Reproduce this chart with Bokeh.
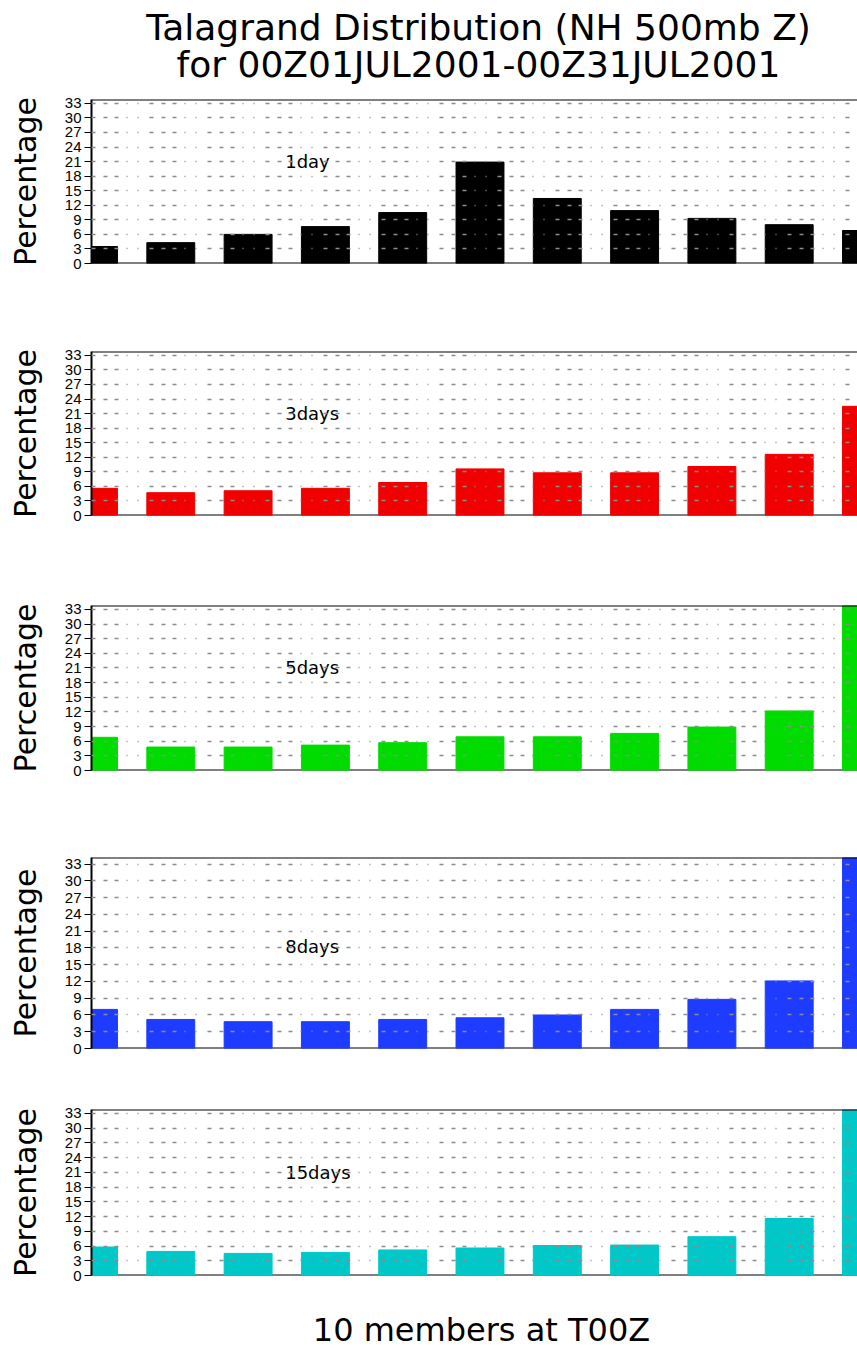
from bokeh.plotting import figure
from bokeh.layouts import column
from bokeh.models import Range1d, FixedTicker, Span, Label, ColumnDataSource
from bokeh.core.properties import value
from bokeh.embed import file_html
from bokeh.resources import INLINE

# ---- data -----------------------------------------------------------------
title_line1 = "Talagrand Distribution (NH 500mb Z)"
title_line2 = "for 00Z01JUL2001-00Z31JUL2001"
footer_text = "10 members at T00Z"
y_label = "Percentage"

# 11 rank bins for a 10-member ensemble
ranks = [1, 2, 3, 4, 5, 6, 7, 8, 9, 10, 11]

pct_1day = [3.5, 4.3, 6.0, 7.6, 10.5, 20.9, 13.4, 10.9, 9.3, 8.0, 6.8]
pct_3days = [5.6, 4.7, 5.1, 5.6, 6.8, 9.6, 8.8, 8.8, 10.1, 12.6, 22.5]
pct_5days = [6.8, 4.8, 4.8, 5.2, 5.7, 6.9, 6.9, 7.6, 8.9, 12.2, 35.0]
pct_8days = [7.0, 5.2, 4.8, 4.8, 5.2, 5.5, 6.0, 7.0, 8.8, 12.1, 36.0]
pct_15days = [5.8, 4.9, 4.5, 4.7, 5.2, 5.6, 6.1, 6.2, 7.9, 11.6, 38.0]

lead_labels = ["1day", "3days", "5days", "8days", "15days"]
y_ticks = [0, 3, 6, 9, 12, 15, 18, 21, 24, 27, 30, 33]

# ---- styling --------------------------------------------------------------
W = 857
FRAME_LEFT = 91
BAR_STEP_PX = 77.3
X_START = 1 - 2 / BAR_STEP_PX
X_END = 1 + (W - 93) / BAR_STEP_PX
GRID_DASH = "4 8 4 7 4 8 1 10 1 11"

panels = [
    # values, colour, label, label y, fig height, top border, bottom border, y max
    (pct_1day, "#000000", lead_labels[0], 21.0, 210, 9, 37, 33.8),
    (pct_3days, "#f00000", lead_labels[1], 21.0, 260, 51, 45, 33.8),
    (pct_5days, "#00dc00", lead_labels[2], 21.0, 252, 45, 42, 33.8),
    (pct_8days, "#1e3cff", lead_labels[3], 18.2, 268, 45, 32, 34.2),
    (pct_15days, "#00c8c8", lead_labels[4], 21.0, 220, 29, 25, 33.8),
]


def text_strip(height, lines, ys, size, cx):
    # plain strip whose data units are page pixels (x from the frame edge)
    p = figure(width=W, height=height, title=None,
               x_range=Range1d(FRAME_LEFT, W), y_range=Range1d(height, 0),
               toolbar_location=None, output_backend="svg",
               min_border_left=FRAME_LEFT, min_border_right=0,
               min_border_top=0, min_border_bottom=0,
               x_axis_location=None, y_axis_location=None,
               outline_line_color=None)
    p.grid.visible = False
    p.text(x=[cx] * len(lines), y=ys, text=lines, text_align="center",
           text_baseline="middle", text_font=value("DejaVu Sans"),
           text_font_size=size, text_color="black")
    return p


def rank_panel(vals, color, label, label_y, height, b_top, b_bottom, y_max):
    p = figure(width=W, height=height, title=None,
               x_range=Range1d(X_START, X_END),
               y_range=Range1d(0, y_max), toolbar_location=None,
               output_backend="svg", x_axis_location=None,
               min_border_left=FRAME_LEFT, min_border_right=0,
               min_border_top=b_top, min_border_bottom=b_bottom,
               outline_line_color=None)

    # baseline under the bars
    p.add_layout(Span(location=0, dimension="width", line_color="black",
                      line_width=2, level="underlay"))

    src = ColumnDataSource(data=dict(rank=ranks, pct=vals))
    p.vbar(x="rank", top="pct", bottom=0, width=0.62, source=src,
           fill_color=color, line_color=color, line_width=1)

    # top border of the frame
    p.add_layout(Span(location=y_max, dimension="width", line_color="black",
                      line_width=2))

    p.xgrid.visible = False
    p.ygrid.ticker = FixedTicker(ticks=y_ticks)
    p.ygrid.grid_line_color = "#8c8c8c"
    p.ygrid.grid_line_width = 1.5
    p.ygrid.grid_line_dash = GRID_DASH
    p.ygrid.level = "overlay"

    ax = p.yaxis[0]
    ax.ticker = FixedTicker(ticks=y_ticks)
    ax.axis_line_color = "black"
    ax.axis_line_width = 2
    ax.major_tick_out = 7
    ax.major_tick_in = 0
    ax.major_tick_line_color = "black"
    ax.minor_tick_out = 0
    ax.minor_tick_in = 0
    ax.major_label_standoff = 3
    ax.major_label_text_font = "Liberation Sans"
    ax.major_label_text_font_size = "15px"
    ax.major_label_text_color = "black"
    ax.axis_label = y_label
    ax.axis_label_text_font = "DejaVu Sans"
    ax.axis_label_text_font_size = "30px"
    ax.axis_label_text_font_style = "normal"
    ax.axis_label_text_color = "black"
    ax.axis_label_standoff = 19

    p.add_layout(Label(x=3.48, y=label_y, text=label, text_align="left",
                       text_baseline="middle", text_font="DejaVu Sans",
                       text_font_size="18px", text_color="black"))
    return p


header = text_strip(90, [title_line1, title_line2], [26.5, 63.5], "36px", 478)
figs = [rank_panel(*cfg) for cfg in panels]
footer = text_strip(49, [footer_text], [29], "32px", 481)

layout = column([header] + figs + [footer], spacing=0)
open("out.html", "w").write(file_html(layout, INLINE))
